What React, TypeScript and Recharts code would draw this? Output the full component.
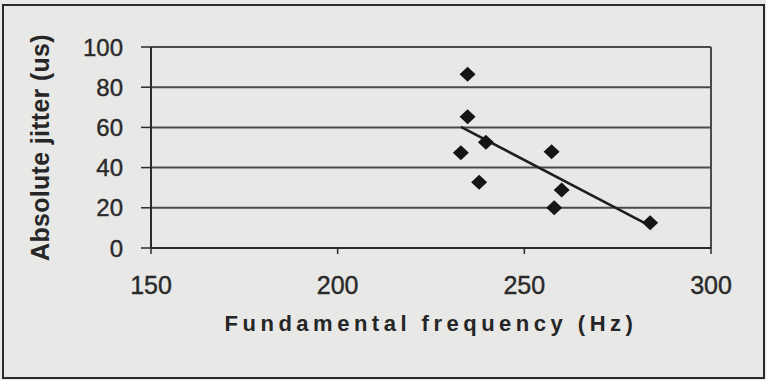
import React from "react";
import {
  ScatterChart,
  Scatter,
  XAxis,
  YAxis,
  CartesianGrid,
  ReferenceLine,
} from "recharts";

// fundamental frequency (Hz) vs absolute jitter (us)
const freqHz = [234.8, 234.8, 239.7, 233.0, 257.3, 237.9, 260.0, 258.0, 283.7];
const jitterUs = [86.4, 65.3, 52.6, 47.4, 47.9, 32.7, 28.9, 20.0, 12.6];

// fitted trend line end points
const trendHz = [233.0, 283.2];
const trendUs = [60.3, 11.5];

const xTicks = [150, 200, 250, 300];
const yTicks = [0, 20, 40, 60, 80, 100];

const points = freqHz.map((f, i) => ({ f, j: jitterUs[i] }));
const trend = trendHz.map((f, i) => ({ f, j: trendUs[i] }));

const INK = "#2b2b2b";
const GRID = "#4a4a4a";

function Diamond(props: any) {
  const { cx, cy } = props;
  if (cx == null || cy == null) return null;
  const rx = 8;
  const ry = 7.5;
  return (
    <path
      d={`M${cx},${cy - ry}L${cx + rx},${cy}L${cx},${cy + ry}L${cx - rx},${cy}Z`}
      fill="#151515"
    />
  );
}

export default function App() {
  return (
    <div
      style={{
        position: "absolute",
        left: 0,
        top: 0,
        width: 766,
        height: 380,
        background: "#e8e8e6",
        fontFamily: "'Liberation Sans', Arial, sans-serif",
      }}
    >
      <div
        style={{
          position: "absolute",
          left: 2,
          top: 4,
          width: 759,
          height: 371,
          border: `2px solid ${INK}`,
        }}
      />
      <div style={{ position: "absolute", left: 0, top: 0 }}>
        <ScatterChart
          width={766}
          height={380}
          margin={{ top: 47, right: 55, left: 20, bottom: 47 }}
        >
          <CartesianGrid
            horizontal
            vertical={false}
            stroke={GRID}
            strokeWidth={2}
            fill="none"
          />
          <XAxis
            type="number"
            dataKey="f"
            domain={[150, 300]}
            ticks={xTicks}
            interval={0}
            height={85}
            axisLine={{ stroke: INK, strokeWidth: 2 }}
            tickLine={{ stroke: INK, strokeWidth: 1.5 }}
            tickSize={6}
            tickMargin={22}
            tick={{ fontSize: 25, fill: "#2a2a2a", stroke: "#2a2a2a", strokeWidth: 0.4 }}
            label={{
              value: "Fundamental frequency (Hz)",
              position: "insideBottom",
              offset: 2,
              style: {
                fontSize: 22,
                fontWeight: 700,
                letterSpacing: 4.5,
                fill: "#262626",
              },
            }}
          />
          <YAxis
            type="number"
            dataKey="j"
            domain={[0, 100]}
            ticks={yTicks}
            interval={0}
            width={131}
            axisLine={{ stroke: INK, strokeWidth: 2 }}
            tickLine={{ stroke: INK, strokeWidth: 1.5 }}
            tickSize={10}
            tickMargin={18}
            tick={{ fontSize: 24, fill: "#2a2a2a", stroke: "#2a2a2a", strokeWidth: 0.4 }}
            label={{
              value: "Absolute jitter (us)",
              angle: -90,
              position: "insideLeft",
              offset: 20,
              style: {
                textAnchor: "middle",
                fontSize: 25,
                fontWeight: 700,
                letterSpacing: 0.3,
                fill: "#262626",
              },
            }}
          />
          <ReferenceLine x={300} stroke={GRID} strokeWidth={2} />
          <Scatter
            data={trend}
            line={{ stroke: "#1e1e1e", strokeWidth: 2.5 }}
            shape={() => null}
            isAnimationActive={false}
          />
          <Scatter data={points} shape={Diamond} isAnimationActive={false} />
        </ScatterChart>
      </div>
    </div>
  );
}
